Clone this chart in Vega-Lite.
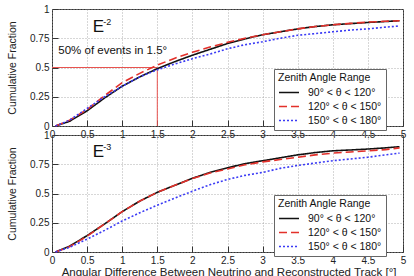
{
  "$schema": "https://vega.github.io/schema/vega-lite/v6.json",
  "padding": {"left": 7, "top": 3, "right": 3, "bottom": 3},
  "background": "white",
  "spacing": 9,
  "bounds": "flush",
  "config": {
    "font": "Liberation Sans",
    "view": {"stroke": "#333", "strokeWidth": 1},
    "axis": {
      "labelFont": "Liberation Sans", "labelFontSize": 10, "labelColor": "#222",
      "titleFont": "Liberation Sans", "titleFontSize": 10.5, "titleFontWeight": "normal", "titleColor": "#222",
      "gridColor": "#999", "gridDash": [1, 2], "gridWidth": 0.8,
      "domain": false, "tickColor": "#333", "tickSize": -6, "labelPadding": 9,
      "labelOverlap": false, "labelBound": false
    },
    "legend": {
      "orient": "none", "legendX": 222, "legendY": 60,
      "fillColor": "white", "strokeColor": "#666", "padding": 4,
      "symbolType": "M-1,0H3", "symbolSize": 100, "symbolStrokeWidth": 1.6,
      "labelFont": "Liberation Sans", "labelFontSize": 10.5, "labelColor": "#111",
      "titleFont": "Liberation Sans", "titleFontSize": 10.5, "titleFontWeight": "normal", "titleColor": "#111",
      "rowPadding": 2, "titlePadding": 3, "labelOffset": 18
    }
  },
  "resolve": {"scale": {"color": "independent", "strokeDash": "independent"}, "legend": {"color": "independent", "strokeDash": "independent"}},
  "datasets": {
    "curves": [
      {"panel": "E-2", "zenith": "90° < θ < 120°", "angle": 0.05, "fraction": 0},
      {"panel": "E-2", "zenith": "90° < θ < 120°", "angle": 0.25, "fraction": 0.04},
      {"panel": "E-2", "zenith": "90° < θ < 120°", "angle": 0.5, "fraction": 0.13},
      {"panel": "E-2", "zenith": "90° < θ < 120°", "angle": 0.75, "fraction": 0.24},
      {"panel": "E-2", "zenith": "90° < θ < 120°", "angle": 1.0, "fraction": 0.34},
      {"panel": "E-2", "zenith": "90° < θ < 120°", "angle": 1.25, "fraction": 0.42},
      {"panel": "E-2", "zenith": "90° < θ < 120°", "angle": 1.5, "fraction": 0.49},
      {"panel": "E-2", "zenith": "90° < θ < 120°", "angle": 1.75, "fraction": 0.55},
      {"panel": "E-2", "zenith": "90° < θ < 120°", "angle": 2.0, "fraction": 0.605},
      {"panel": "E-2", "zenith": "90° < θ < 120°", "angle": 2.25, "fraction": 0.655},
      {"panel": "E-2", "zenith": "90° < θ < 120°", "angle": 2.5, "fraction": 0.705},
      {"panel": "E-2", "zenith": "90° < θ < 120°", "angle": 2.75, "fraction": 0.745},
      {"panel": "E-2", "zenith": "90° < θ < 120°", "angle": 3.0, "fraction": 0.78},
      {"panel": "E-2", "zenith": "90° < θ < 120°", "angle": 3.25, "fraction": 0.805},
      {"panel": "E-2", "zenith": "90° < θ < 120°", "angle": 3.5, "fraction": 0.83},
      {"panel": "E-2", "zenith": "90° < θ < 120°", "angle": 3.75, "fraction": 0.85},
      {"panel": "E-2", "zenith": "90° < θ < 120°", "angle": 4.0, "fraction": 0.865},
      {"panel": "E-2", "zenith": "90° < θ < 120°", "angle": 4.25, "fraction": 0.875},
      {"panel": "E-2", "zenith": "90° < θ < 120°", "angle": 4.5, "fraction": 0.885},
      {"panel": "E-2", "zenith": "90° < θ < 120°", "angle": 4.75, "fraction": 0.893},
      {"panel": "E-2", "zenith": "90° < θ < 120°", "angle": 4.95, "fraction": 0.9},
      {"panel": "E-2", "zenith": "120° < θ < 150°", "angle": 0.05, "fraction": 0},
      {"panel": "E-2", "zenith": "120° < θ < 150°", "angle": 0.25, "fraction": 0.05},
      {"panel": "E-2", "zenith": "120° < θ < 150°", "angle": 0.5, "fraction": 0.14},
      {"panel": "E-2", "zenith": "120° < θ < 150°", "angle": 0.75, "fraction": 0.26},
      {"panel": "E-2", "zenith": "120° < θ < 150°", "angle": 1.0, "fraction": 0.37},
      {"panel": "E-2", "zenith": "120° < θ < 150°", "angle": 1.25, "fraction": 0.45},
      {"panel": "E-2", "zenith": "120° < θ < 150°", "angle": 1.5, "fraction": 0.52},
      {"panel": "E-2", "zenith": "120° < θ < 150°", "angle": 1.75, "fraction": 0.58},
      {"panel": "E-2", "zenith": "120° < θ < 150°", "angle": 2.0, "fraction": 0.63},
      {"panel": "E-2", "zenith": "120° < θ < 150°", "angle": 2.25, "fraction": 0.675},
      {"panel": "E-2", "zenith": "120° < θ < 150°", "angle": 2.5, "fraction": 0.715},
      {"panel": "E-2", "zenith": "120° < θ < 150°", "angle": 2.75, "fraction": 0.75},
      {"panel": "E-2", "zenith": "120° < θ < 150°", "angle": 3.0, "fraction": 0.78},
      {"panel": "E-2", "zenith": "120° < θ < 150°", "angle": 3.25, "fraction": 0.805},
      {"panel": "E-2", "zenith": "120° < θ < 150°", "angle": 3.5, "fraction": 0.83},
      {"panel": "E-2", "zenith": "120° < θ < 150°", "angle": 3.75, "fraction": 0.85},
      {"panel": "E-2", "zenith": "120° < θ < 150°", "angle": 4.0, "fraction": 0.865},
      {"panel": "E-2", "zenith": "120° < θ < 150°", "angle": 4.25, "fraction": 0.877},
      {"panel": "E-2", "zenith": "120° < θ < 150°", "angle": 4.5, "fraction": 0.888},
      {"panel": "E-2", "zenith": "120° < θ < 150°", "angle": 4.75, "fraction": 0.895},
      {"panel": "E-2", "zenith": "120° < θ < 150°", "angle": 4.95, "fraction": 0.9},
      {"panel": "E-2", "zenith": "150° < θ < 180°", "angle": 0.05, "fraction": 0},
      {"panel": "E-2", "zenith": "150° < θ < 180°", "angle": 0.25, "fraction": 0.05},
      {"panel": "E-2", "zenith": "150° < θ < 180°", "angle": 0.5, "fraction": 0.15},
      {"panel": "E-2", "zenith": "150° < θ < 180°", "angle": 0.75, "fraction": 0.25},
      {"panel": "E-2", "zenith": "150° < θ < 180°", "angle": 1.0, "fraction": 0.34},
      {"panel": "E-2", "zenith": "150° < θ < 180°", "angle": 1.25, "fraction": 0.42},
      {"panel": "E-2", "zenith": "150° < θ < 180°", "angle": 1.5, "fraction": 0.48},
      {"panel": "E-2", "zenith": "150° < θ < 180°", "angle": 1.75, "fraction": 0.53},
      {"panel": "E-2", "zenith": "150° < θ < 180°", "angle": 2.0, "fraction": 0.575},
      {"panel": "E-2", "zenith": "150° < θ < 180°", "angle": 2.25, "fraction": 0.615},
      {"panel": "E-2", "zenith": "150° < θ < 180°", "angle": 2.5, "fraction": 0.66},
      {"panel": "E-2", "zenith": "150° < θ < 180°", "angle": 2.75, "fraction": 0.695},
      {"panel": "E-2", "zenith": "150° < θ < 180°", "angle": 3.0, "fraction": 0.72},
      {"panel": "E-2", "zenith": "150° < θ < 180°", "angle": 3.25, "fraction": 0.75},
      {"panel": "E-2", "zenith": "150° < θ < 180°", "angle": 3.5, "fraction": 0.775},
      {"panel": "E-2", "zenith": "150° < θ < 180°", "angle": 3.75, "fraction": 0.79},
      {"panel": "E-2", "zenith": "150° < θ < 180°", "angle": 4.0, "fraction": 0.805},
      {"panel": "E-2", "zenith": "150° < θ < 180°", "angle": 4.25, "fraction": 0.82},
      {"panel": "E-2", "zenith": "150° < θ < 180°", "angle": 4.5, "fraction": 0.83},
      {"panel": "E-2", "zenith": "150° < θ < 180°", "angle": 4.75, "fraction": 0.845},
      {"panel": "E-2", "zenith": "150° < θ < 180°", "angle": 4.95, "fraction": 0.855},
      {"panel": "E-3", "zenith": "90° < θ < 120°", "angle": 0.05, "fraction": 0},
      {"panel": "E-3", "zenith": "90° < θ < 120°", "angle": 0.25, "fraction": 0.05},
      {"panel": "E-3", "zenith": "90° < θ < 120°", "angle": 0.5, "fraction": 0.14},
      {"panel": "E-3", "zenith": "90° < θ < 120°", "angle": 0.75, "fraction": 0.24},
      {"panel": "E-3", "zenith": "90° < θ < 120°", "angle": 1.0, "fraction": 0.345},
      {"panel": "E-3", "zenith": "90° < θ < 120°", "angle": 1.25, "fraction": 0.435},
      {"panel": "E-3", "zenith": "90° < θ < 120°", "angle": 1.5, "fraction": 0.51},
      {"panel": "E-3", "zenith": "90° < θ < 120°", "angle": 1.75, "fraction": 0.57},
      {"panel": "E-3", "zenith": "90° < θ < 120°", "angle": 2.0, "fraction": 0.63},
      {"panel": "E-3", "zenith": "90° < θ < 120°", "angle": 2.25, "fraction": 0.68},
      {"panel": "E-3", "zenith": "90° < θ < 120°", "angle": 2.5, "fraction": 0.72},
      {"panel": "E-3", "zenith": "90° < θ < 120°", "angle": 2.75, "fraction": 0.755},
      {"panel": "E-3", "zenith": "90° < θ < 120°", "angle": 3.0, "fraction": 0.78},
      {"panel": "E-3", "zenith": "90° < θ < 120°", "angle": 3.25, "fraction": 0.805},
      {"panel": "E-3", "zenith": "90° < θ < 120°", "angle": 3.5, "fraction": 0.83},
      {"panel": "E-3", "zenith": "90° < θ < 120°", "angle": 3.75, "fraction": 0.85},
      {"panel": "E-3", "zenith": "90° < θ < 120°", "angle": 4.0, "fraction": 0.865},
      {"panel": "E-3", "zenith": "90° < θ < 120°", "angle": 4.25, "fraction": 0.872},
      {"panel": "E-3", "zenith": "90° < θ < 120°", "angle": 4.5, "fraction": 0.88},
      {"panel": "E-3", "zenith": "90° < θ < 120°", "angle": 4.75, "fraction": 0.89},
      {"panel": "E-3", "zenith": "90° < θ < 120°", "angle": 4.95, "fraction": 0.9},
      {"panel": "E-3", "zenith": "120° < θ < 150°", "angle": 0.05, "fraction": 0},
      {"panel": "E-3", "zenith": "120° < θ < 150°", "angle": 0.25, "fraction": 0.045},
      {"panel": "E-3", "zenith": "120° < θ < 150°", "angle": 0.5, "fraction": 0.135},
      {"panel": "E-3", "zenith": "120° < θ < 150°", "angle": 0.75, "fraction": 0.24},
      {"panel": "E-3", "zenith": "120° < θ < 150°", "angle": 1.0, "fraction": 0.345},
      {"panel": "E-3", "zenith": "120° < θ < 150°", "angle": 1.25, "fraction": 0.435},
      {"panel": "E-3", "zenith": "120° < θ < 150°", "angle": 1.5, "fraction": 0.51},
      {"panel": "E-3", "zenith": "120° < θ < 150°", "angle": 1.75, "fraction": 0.57},
      {"panel": "E-3", "zenith": "120° < θ < 150°", "angle": 2.0, "fraction": 0.628},
      {"panel": "E-3", "zenith": "120° < θ < 150°", "angle": 2.25, "fraction": 0.675},
      {"panel": "E-3", "zenith": "120° < θ < 150°", "angle": 2.5, "fraction": 0.71},
      {"panel": "E-3", "zenith": "120° < θ < 150°", "angle": 2.75, "fraction": 0.745},
      {"panel": "E-3", "zenith": "120° < θ < 150°", "angle": 3.0, "fraction": 0.77},
      {"panel": "E-3", "zenith": "120° < θ < 150°", "angle": 3.25, "fraction": 0.79},
      {"panel": "E-3", "zenith": "120° < θ < 150°", "angle": 3.5, "fraction": 0.81},
      {"panel": "E-3", "zenith": "120° < θ < 150°", "angle": 3.75, "fraction": 0.83},
      {"panel": "E-3", "zenith": "120° < θ < 150°", "angle": 4.0, "fraction": 0.845},
      {"panel": "E-3", "zenith": "120° < θ < 150°", "angle": 4.25, "fraction": 0.855},
      {"panel": "E-3", "zenith": "120° < θ < 150°", "angle": 4.5, "fraction": 0.865},
      {"panel": "E-3", "zenith": "120° < θ < 150°", "angle": 4.75, "fraction": 0.875},
      {"panel": "E-3", "zenith": "120° < θ < 150°", "angle": 4.95, "fraction": 0.89},
      {"panel": "E-3", "zenith": "150° < θ < 180°", "angle": 0.05, "fraction": 0},
      {"panel": "E-3", "zenith": "150° < θ < 180°", "angle": 0.25, "fraction": 0.04},
      {"panel": "E-3", "zenith": "150° < θ < 180°", "angle": 0.5, "fraction": 0.11},
      {"panel": "E-3", "zenith": "150° < θ < 180°", "angle": 0.75, "fraction": 0.185},
      {"panel": "E-3", "zenith": "150° < θ < 180°", "angle": 1.0, "fraction": 0.265},
      {"panel": "E-3", "zenith": "150° < θ < 180°", "angle": 1.25, "fraction": 0.335},
      {"panel": "E-3", "zenith": "150° < θ < 180°", "angle": 1.5, "fraction": 0.4},
      {"panel": "E-3", "zenith": "150° < θ < 180°", "angle": 1.75, "fraction": 0.46},
      {"panel": "E-3", "zenith": "150° < θ < 180°", "angle": 2.0, "fraction": 0.52},
      {"panel": "E-3", "zenith": "150° < θ < 180°", "angle": 2.25, "fraction": 0.575},
      {"panel": "E-3", "zenith": "150° < θ < 180°", "angle": 2.5, "fraction": 0.62},
      {"panel": "E-3", "zenith": "150° < θ < 180°", "angle": 2.75, "fraction": 0.655},
      {"panel": "E-3", "zenith": "150° < θ < 180°", "angle": 3.0, "fraction": 0.68},
      {"panel": "E-3", "zenith": "150° < θ < 180°", "angle": 3.25, "fraction": 0.715},
      {"panel": "E-3", "zenith": "150° < θ < 180°", "angle": 3.5, "fraction": 0.74},
      {"panel": "E-3", "zenith": "150° < θ < 180°", "angle": 3.75, "fraction": 0.76},
      {"panel": "E-3", "zenith": "150° < θ < 180°", "angle": 4.0, "fraction": 0.78},
      {"panel": "E-3", "zenith": "150° < θ < 180°", "angle": 4.25, "fraction": 0.795},
      {"panel": "E-3", "zenith": "150° < θ < 180°", "angle": 4.5, "fraction": 0.81},
      {"panel": "E-3", "zenith": "150° < θ < 180°", "angle": 4.75, "fraction": 0.83},
      {"panel": "E-3", "zenith": "150° < θ < 180°", "angle": 4.95, "fraction": 0.845}
    ]
  },
  "vconcat": [
    {
      "width": 351, "height": 117,
      "encoding": {
        "x": {"field": "angle", "type": "quantitative", "scale": {"domain": [0, 5], "nice": false},
          "axis": {"title": null, "values": [0, 0.5, 1, 1.5, 2, 2.5, 3, 3.5, 4, 4.5, 5], "labelExpr": "'' + datum.value", "labelFlush": false, "labelOverlap": false}},
        "y": {"field": "fraction", "type": "quantitative", "scale": {"domain": [0, 1], "nice": false},
          "axis": {"title": "Cumulative Fraction", "values": [0, 0.25, 0.5, 0.75, 1], "labelExpr": "'' + datum.value", "labelFlush": false, "labelOverlap": false, "titlePadding": 12}}
      },
      "layer": [
        {
          "data": {"values": [
            {"angle": 0, "angle2": 1.5, "fraction": 0.5, "fraction2": 0.5},
            {"angle": 1.5, "angle2": 1.5, "fraction": 0, "fraction2": 0.5}
          ]},
          "mark": {"type": "rule", "color": "#e8534f", "strokeWidth": 1},
          "encoding": {"x2": {"field": "angle2"}, "y2": {"field": "fraction2"}}
        },
        {
          "data": {"name": "curves"},
          "transform": [{"filter": "datum.panel === 'E-2'"}],
          "mark": {"type": "line", "strokeWidth": 1.6},
          "encoding": {
            "color": {"field": "zenith", "type": "nominal",
              "scale": {"domain": ["90° < θ < 120°", "120° < θ < 150°", "150° < θ < 180°"], "range": ["#111111", "#e3302a", "#3b3bf5"]},
              "legend": {"title": "Zenith Angle Range"}},
            "strokeDash": {"field": "zenith", "type": "nominal",
              "scale": {"domain": ["90° < θ < 120°", "120° < θ < 150°", "150° < θ < 180°"], "range": [[1, 0], [8, 4], [2, 2]]},
              "legend": {"title": "Zenith Angle Range"}}
          }
        },
        {
          "data": {"values": [{"angle": 0.58, "fraction": 0.8, "label": "E"}]},
          "mark": {"type": "text", "fontSize": 17, "align": "left", "baseline": "alphabetic", "font": "Liberation Sans", "color": "#111"},
          "encoding": {"text": {"field": "label"}}
        },
        {
          "data": {"values": [{"angle": 0.73, "fraction": 0.865, "label": "-2"}]},
          "mark": {"type": "text", "fontSize": 9, "align": "left", "baseline": "alphabetic", "font": "Liberation Sans", "color": "#111"},
          "encoding": {"text": {"field": "label"}}
        },
        {
          "data": {"values": [{"angle": 0.09, "fraction": 0.615, "label": "50% of events in 1.5°"}]},
          "mark": {"type": "text", "fontSize": 11.5, "align": "left", "baseline": "alphabetic", "font": "Liberation Sans", "color": "#111"},
          "encoding": {"text": {"field": "label"}}
        }
      ]
    },
    {
      "width": 351, "height": 117,
      "encoding": {
        "x": {"field": "angle", "type": "quantitative", "scale": {"domain": [0, 5], "nice": false},
          "axis": {"title": "Angular Difference Between Neutrino and Reconstructed Track [°]", "titleAnchor": "end", "titleAlign": "right", "titleX": 344, "titleFontSize": 11.5, "titlePadding": 1, "values": [0, 0.5, 1, 1.5, 2, 2.5, 3, 3.5, 4, 4.5, 5], "labelExpr": "'' + datum.value", "labelFlush": false, "labelOverlap": false}},
        "y": {"field": "fraction", "type": "quantitative", "scale": {"domain": [0, 1], "nice": false},
          "axis": {"title": "Cumulative Fraction", "values": [0, 0.25, 0.5, 0.75, 1], "labelExpr": "'' + datum.value", "labelFlush": false, "labelOverlap": false, "titlePadding": 12}}
      },
      "layer": [
        {
          "data": {"name": "curves"},
          "transform": [{"filter": "datum.panel === 'E-3'"}],
          "mark": {"type": "line", "strokeWidth": 1.6},
          "encoding": {
            "color": {"field": "zenith", "type": "nominal",
              "scale": {"domain": ["90° < θ < 120°", "120° < θ < 150°", "150° < θ < 180°"], "range": ["#111111", "#e3302a", "#3b3bf5"]},
              "legend": {"title": "Zenith Angle Range"}},
            "strokeDash": {"field": "zenith", "type": "nominal",
              "scale": {"domain": ["90° < θ < 120°", "120° < θ < 150°", "150° < θ < 180°"], "range": [[1, 0], [8, 4], [2, 2]]},
              "legend": {"title": "Zenith Angle Range"}}
          }
        },
        {
          "data": {"values": [{"angle": 0.58, "fraction": 0.81, "label": "E"}]},
          "mark": {"type": "text", "fontSize": 17, "align": "left", "baseline": "alphabetic", "font": "Liberation Sans", "color": "#111"},
          "encoding": {"text": {"field": "label"}}
        },
        {
          "data": {"values": [{"angle": 0.73, "fraction": 0.875, "label": "-3"}]},
          "mark": {"type": "text", "fontSize": 9, "align": "left", "baseline": "alphabetic", "font": "Liberation Sans", "color": "#111"},
          "encoding": {"text": {"field": "label"}}
        }
      ]
    }
  ]
}
